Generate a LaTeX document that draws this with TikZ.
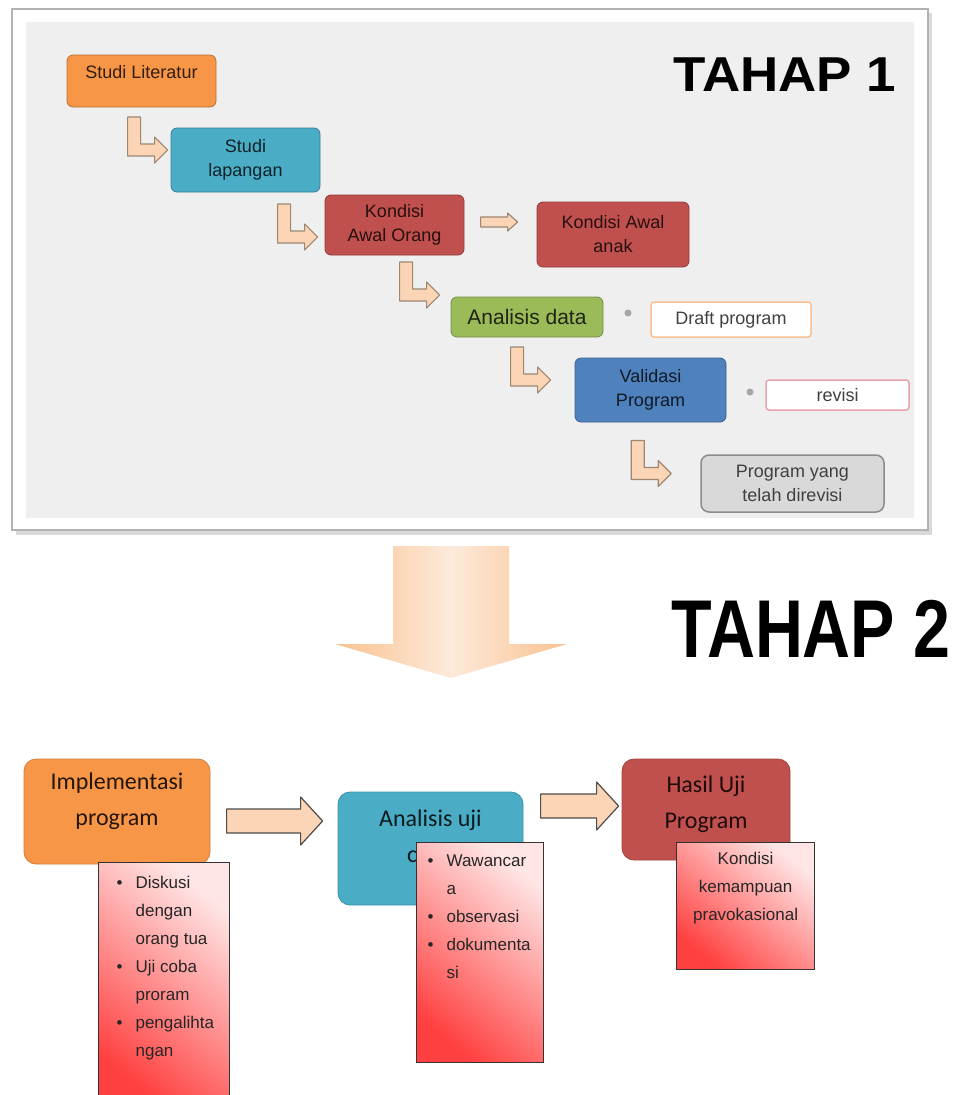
\documentclass[tikz,border=0pt]{standalone}
\usepackage{fontspec}
\setmainfont{Liberation Sans}
\newfontfamily\calfont{Carlito}
\newfontfamily\tahapsatu[FakeStretch=1.08]{Liberation Sans}
\newfontfamily\tahapdua[FakeStretch=0.81]{Liberation Sans}
\usetikzlibrary{calc}

\definecolor{oranye}{HTML}{F79646}
\definecolor{tosca}{HTML}{4BACC6}
\definecolor{merah}{HTML}{C0504D}
\definecolor{hijau}{HTML}{9BBB59}
\definecolor{biru}{HTML}{4F81BD}
\definecolor{abu}{HTML}{D9D9D9}
\definecolor{panel}{HTML}{EFEFEF}
\definecolor{peach}{HTML}{FBD5B5}
\definecolor{peachd}{HTML}{F9C18F}
\definecolor{peachl}{HTML}{FDEADB}
\definecolor{peachline}{HTML}{9C8772}
\definecolor{pinkline}{HTML}{E6A3AE}
\definecolor{draftline}{HTML}{FAC090}

\newcommand{\butir}{\makebox[19pt][l]{\textbullet}}
\newcommand{\turun}[1]{\rule[-#1]{0pt}{#1}}

\begin{document}
\begin{tikzpicture}[x=1pt,y=-1pt,
    kotak/.style={rounded corners=6pt,draw=#1!75!black,fill=#1,text=#1!20!black,
      align=center,inner sep=2pt,line width=0.8pt,font=\fontsize{18}{24}\selectfont},
    garis/.style={rounded corners=3pt,draw=#1,fill=white,line width=1.5pt,
      text=black!75,inner sep=2pt,font=\fontsize{18}{24}\selectfont},
    besar/.style={rounded corners=12pt,draw=#1!85!black,fill=#1,text=#1!15!black,
      align=center,inner sep=2pt,line width=0.8pt,font=\calfont\fontsize{24}{36}\selectfont},
    daftar/.style={draw=black!80,line width=1.2pt,top color=red!10,bottom color=red!75,
      shading angle=-40,inner sep=0pt,anchor=north west,text=black!85,
      font=\fontsize{17}{28}\selectfont},
    titik/.style={circle,fill=gray!70,inner sep=0pt,minimum size=7pt},
    panah/.style={draw=peachline,fill=peach,line width=1.2pt,line join=round},
    pics/belok/.style={code={
      \draw[panah] (-40,-33) -- (-27,-33) -- (-27,-6) -- (-13,-6) -- (-13,-13)
        -- (0,0) -- (-13,13) -- (-13,6) -- (-40,6) -- cycle;}},
    pics/lurus/.style={code={
      \draw[panah] (-37,-5) -- (-10,-5) -- (-10,-9) -- (0,0) -- (-10,9)
        -- (-10,5) -- (-37,5) -- cycle;}},
    pics/tebal/.style={code={
      \draw[panah,draw=black!70] (-#1,-12) -- (-22,-12) -- (-22,-24) -- (0,0)
        -- (-22,24) -- (-22,12) -- (-#1,12) -- cycle;}}
  ]
  \useasboundingbox (0,0) rectangle (953,1095);

  % bingkai tahap 1
  \fill[gray!30] (16,13) rectangle (932,535);
  \draw[gray!60,line width=1.5pt,fill=white] (12,9) rectangle (928,530);
  \fill[panel] (26,22) rectangle (914,518);

  \node[font=\tahapsatu\bfseries\fontsize{49}{49}\selectfont] (tahap1) at (785,74.5) {TAHAP 1};

  % tahap 1
  \node[kotak=oranye,minimum width=149pt,minimum height=52pt] (lit) at (141.5,81) {Studi Literatur\turun{18pt}};
  \node[kotak=tosca,minimum width=149pt,minimum height=64pt] (lap) at (245.5,160) {Studi\\lapangan};
  \node[kotak=merah,minimum width=139pt,minimum height=60pt] (ortu) at (394.5,225) {Kondisi\\Awal Orang};
  \node[kotak=merah,minimum width=152pt,minimum height=65pt] (anak) at (613,234.5) {Kondisi Awal\\anak};
  \node[kotak=hijau,minimum width=152pt,minimum height=40pt,font=\fontsize{21}{24}\selectfont] (ana) at (527,317) {Analisis data};
  \node[garis=draftline,minimum width=160pt,minimum height=35pt] (draft) at (731,319.5) {Draft program};
  \node[kotak=biru,minimum width=151pt,minimum height=64pt] (val) at (650.5,390) {Validasi\\Program};
  \node[garis=pinkline,minimum width=143pt,minimum height=30pt] (rev) at (837.5,395) {revisi};
  \node[kotak=abu,draw=gray!90,line width=1.5pt,rounded corners=8pt,text=black!75,
    minimum width=183pt,minimum height=57pt] (prog) at (792.5,483.5) {Program yang\\telah direvisi};

  \node[titik] (d1) at (628,313) {};
  \node[titik] (d2) at (750,392) {};

  \pic at ($(lap.west)+(-3,-10)$) {belok};
  \pic at ($(ortu.west)+(-7,12)$) {belok};
  \pic at ($(ana.west)+(-11,-22)$) {belok};
  \pic at ($(val.west)+(-24,-10)$) {belok};
  \pic at ($(prog.west)+(-29,-10)$) {belok};
  \pic at ($(anak.west)+(-19,-12.5)$) {lurus};

  % panah ke tahap 2
  \shade[left color=peachd,right color=peachd,middle color=peachl]
    (393,546) -- (509,546) -- (509,644) -- (567,644) -- (451,678) -- (335,644) -- (393,644) -- cycle;

  \node[font=\tahapdua\bfseries\fontsize{82}{82}\selectfont] (tahap2) at (811,628.5) {TAHAP 2};

  % tahap 2
  \node[besar=oranye,minimum width=186pt,minimum height=105pt] (imp) at (117,811.5) {Implementasi\\program\turun{24pt}};
  \node[besar=tosca,minimum width=185pt,minimum height=113pt] (uji) at (430.5,848.5) {Analisis uji\\coba\turun{24pt}};
  \node[besar=merah,minimum width=168pt,minimum height=101pt] (hasil) at (706,809.5) {Hasil Uji\\Program\turun{15pt}};

  \pic at ($(uji.west)+(-15,-27.5)$) {tebal=96};
  \pic at ($(hasil.west)+(-3,-3.5)$) {tebal=78};

  \node[daftar] (l1) at (98,862) {\parbox[c][243pt][t]{131pt}{\raggedright
    \rule{0pt}{26pt}\hspace*{18pt}\butir Diskusi\\
    \hspace*{37pt}dengan\\
    \hspace*{37pt}orang tua\\
    \hspace*{18pt}\butir Uji coba\\
    \hspace*{37pt}proram\\
    \hspace*{18pt}\butir pengalihta\\
    \hspace*{37pt}ngan}};
  \node[daftar] (l2) at (416,842) {\parbox[c][220pt][t]{127pt}{\raggedright
    \rule{0pt}{24pt}\hspace*{11pt}\butir Wawancar\\
    \hspace*{30pt}a\\
    \hspace*{11pt}\butir observasi\\
    \hspace*{11pt}\butir dokumenta\\
    \hspace*{30pt}si}};
  \node[daftar] (l3) at (676,842) {\parbox[c][127pt][t]{138pt}{\centering
    \rule{0pt}{22pt}Kondisi\\kemampuan\\pravokasional}};

\end{tikzpicture}
\end{document}
